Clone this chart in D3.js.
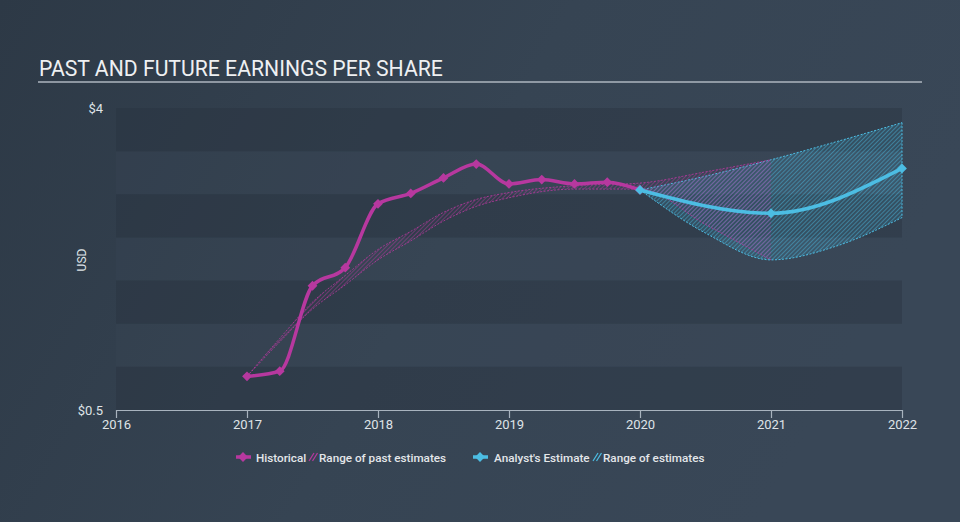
<!DOCTYPE html>
<html><head><meta charset="utf-8">
<script src="https://cdn.jsdelivr.net/npm/d3@7"></script>
<style>
html,body{margin:0;padding:0;background:#333f4d;}
svg{display:block;font-family:Roboto,"Noto Sans",sans-serif;}
</style></head>
<body><svg id="c" width="960" height="522"></svg>
<script>
// ---- data ----
const histYears = [2017, 2017.25, 2017.5, 2017.75, 2018, 2018.25, 2018.5, 2018.75, 2019, 2019.25, 2019.5, 2019.75, 2020];
const histEPS   = [0.89, 0.95, 1.94, 2.15, 2.89, 3.01, 3.19, 3.35, 3.12, 3.17, 3.12, 3.14, 3.05];

const pastRangeYears = [2017, 2017.25, 2017.5, 2017.75, 2018, 2018.25, 2018.5, 2018.75, 2019, 2019.5, 2020, 2020.5, 2021];
const pastRangeHigh  = [0.89, 1.33, 1.75, 2.06, 2.36, 2.57, 2.79, 2.94, 3.02, 3.10, 3.13, 3.26, 3.40];
const pastRangeLow   = [0.89, 1.29, 1.67, 1.95, 2.24, 2.46, 2.69, 2.86, 2.96, 3.06, 3.06, 2.65, 2.24];

const estYears = [2020, 2021, 2022];
const estEPS   = [3.05, 2.78, 3.30];

const estRangeYears = [2020, 2020.5, 2021, 2021.5, 2022];
const estRangeHigh  = [3.05, 3.21, 3.40, 3.61, 3.83];
const estRangeLow   = [3.05, 2.55, 2.24, 2.40, 2.73];

const xTicks = [2016, 2017, 2018, 2019, 2020, 2021, 2022];
const yTickValues = [0.5, 4];
const yTickLabels = ["$0.5", "$4"];
const bandEdges = [0.5, 1, 1.5, 2, 2.5, 3, 3.5, 4];

const title = "PAST AND FUTURE EARNINGS PER SHARE";
const legendItems = ["Historical", "Range of past estimates", "Analyst's Estimate", "Range of estimates"];

// ---- drawing ----
const W = 960, H = 522;
const svg = d3.select("#c");
const defs = svg.append("defs");

const bg = defs.append("linearGradient").attr("id","bg").attr("x1","0").attr("y1","0").attr("x2","1").attr("y2","0.3");
bg.append("stop").attr("offset","0").attr("stop-color","#2d3946");
bg.append("stop").attr("offset","0.55").attr("stop-color","#364453");
bg.append("stop").attr("offset","1").attr("stop-color","#394757");
svg.append("rect").attr("width",W).attr("height",H).attr("fill","url(#bg)");

const MAG = "#b7389f", CYAN = "#4cbde3";
function hatch(id, color){
  const p = defs.append("pattern").attr("id",id).attr("patternUnits","userSpaceOnUse")
    .attr("width",3).attr("height",3).attr("patternTransform","rotate(45)");
  p.append("line").attr("x1",0).attr("y1",0).attr("x2",0).attr("y2",3)
    .attr("stroke",color).attr("stroke-width",1.3);
}
hatch("hC", CYAN); hatch("hM", MAG);

const x = d3.scaleLinear().domain([2016, 2022]).range([116, 902]);
const y = d3.scaleLinear().domain([0.5, 4]).range([410, 108]);

// bands
const bands = svg.append("g");
for (let i = 0; i < bandEdges.length - 1; i++) {
  const dark = (bandEdges.length - 2 - i) % 2 === 0;
  bands.append("rect")
    .attr("x", x(2016)).attr("width", x(2022) - x(2016))
    .attr("y", y(bandEdges[i+1])).attr("height", y(bandEdges[i]) - y(bandEdges[i+1]))
    .attr("fill", dark ? "#27323f" : "#3a4858")
    .attr("opacity", dark ? 0.4 : 0.25);
}

// title
svg.append("text").attr("x",39).attr("y",76).attr("fill","#eef0f2")
  .attr("font-size",21.2).text(title);
svg.append("line").attr("x1",38).attr("x2",922).attr("y1",82).attr("y2",82)
  .attr("stroke","#aeb6bf").attr("stroke-width",1.5);

// y labels
svg.selectAll(".yl").data(yTickValues).enter().append("text")
  .attr("x",103).attr("y",d=>y(d)+4.5).attr("text-anchor","end")
  .attr("fill","#dfe3e7").attr("font-size",13).text((d,i)=>yTickLabels[i]);
svg.append("text").attr("transform","translate(86,260) rotate(-90)")
  .attr("text-anchor","middle").attr("fill","#dfe3e7").attr("font-size",12).text("USD");

// x axis
const xa = svg.append("g").attr("transform","translate(0,410)")
  .call(d3.axisBottom(x).tickValues(xTicks).tickFormat(d3.format("d")).tickSize(8).tickSizeOuter(0));
xa.select(".domain").attr("stroke","#a8b3be").attr("stroke-width",1.2);
xa.selectAll(".tick line").attr("stroke","#a8b3be").attr("stroke-width",1.2);
xa.selectAll(".tick text").attr("fill","#dfe3e7").attr("font-size",13)
  .attr("font-family","Roboto,sans-serif").attr("dy","0.95em").attr("y",7);

const curve = d3.curveMonotoneX;
const area = (ys, hi, lo) => d3.area().curve(curve)
  .x((d,i)=>x(ys[i])).y0((d,i)=>y(lo[i])).y1((d,i)=>y(hi[i]))(ys);
const line = (ys, vals) => d3.line().curve(curve).x((d,i)=>x(ys[i])).y((d,i)=>y(vals[i]))(ys);

// estimate range
svg.append("path").attr("d", area(estRangeYears, estRangeHigh, estRangeLow))
  .attr("fill", CYAN).attr("opacity",0.15);
svg.append("path").attr("d", area(estRangeYears, estRangeHigh, estRangeLow))
  .attr("fill","url(#hC)").attr("opacity",0.7);
[estRangeHigh, estRangeLow].forEach(v=>{
  svg.append("path").attr("d", line(estRangeYears, v)).attr("fill","none")
    .attr("stroke",CYAN).attr("stroke-width",1).attr("stroke-dasharray","2,1.5");
});
svg.append("line").attr("x1",x(2022)).attr("x2",x(2022))
  .attr("y1",y(estRangeHigh[estRangeHigh.length-1])).attr("y2",y(estRangeLow[estRangeLow.length-1]))
  .attr("stroke",CYAN).attr("stroke-width",1).attr("stroke-dasharray","2,1.5");

// past estimate range
svg.append("path").attr("d", area(pastRangeYears, pastRangeHigh, pastRangeLow))
  .attr("fill","url(#hM)").attr("opacity",0.7);
[pastRangeHigh, pastRangeLow].forEach(v=>{
  svg.append("path").attr("d", line(pastRangeYears, v)).attr("fill","none")
    .attr("stroke",MAG).attr("stroke-width",0.9).attr("stroke-dasharray","2,1.5").attr("opacity",0.9);
});

// historical line
svg.append("path").attr("d", line(histYears, histEPS)).attr("fill","none")
  .attr("stroke",MAG).attr("stroke-width",3.5).attr("stroke-linejoin","round");
const diamond = d3.symbol().type(d3.symbolSquare).size(48)();
svg.selectAll(".hm").data(histEPS).enter().append("path").attr("d",diamond)
  .attr("transform",(d,i)=>`translate(${x(histYears[i])},${y(d)}) rotate(45)`).attr("fill",MAG);

// estimate line
svg.append("path").attr("d", line(estYears, estEPS)).attr("fill","none")
  .attr("stroke",CYAN).attr("stroke-width",3.5);
svg.selectAll(".em").data(estEPS).enter().append("path").attr("d",diamond)
  .attr("transform",(d,i)=>`translate(${x(estYears[i])},${y(d)}) rotate(45)`).attr("fill",CYAN);

// legend
const lg = svg.append("g").attr("font-size",11.7).attr("font-weight",500).attr("fill","#e4e7ea");
function lineIcon(cx, color){
  lg.append("line").attr("x1",cx-7).attr("x2",cx+8).attr("y1",457).attr("y2",457)
    .attr("stroke",color).attr("stroke-width",3.5);
  lg.append("path").attr("d",diamond).attr("transform",`translate(${cx},457) rotate(45)`).attr("fill",color);
}
function hatchIcon(x0, color){
  for (let k=0;k<2;k++){
    lg.append("line").attr("x1",x0+k*3.5).attr("y1",461).attr("x2",x0+k*3.5+5).attr("y2",453)
      .attr("stroke",color).attr("stroke-width",1.2);
  }
}
lineIcon(243, MAG);
lg.append("text").attr("x",256).attr("y",461.5).text(legendItems[0]);
hatchIcon(309, MAG);
lg.append("text").attr("x",319).attr("y",461.5).text(legendItems[1]);
lineIcon(480, CYAN);
lg.append("text").attr("x",494).attr("y",461.5).text(legendItems[2]);
hatchIcon(593, CYAN);
lg.append("text").attr("x",603).attr("y",461.5).text(legendItems[3]);
</script></body></html>
